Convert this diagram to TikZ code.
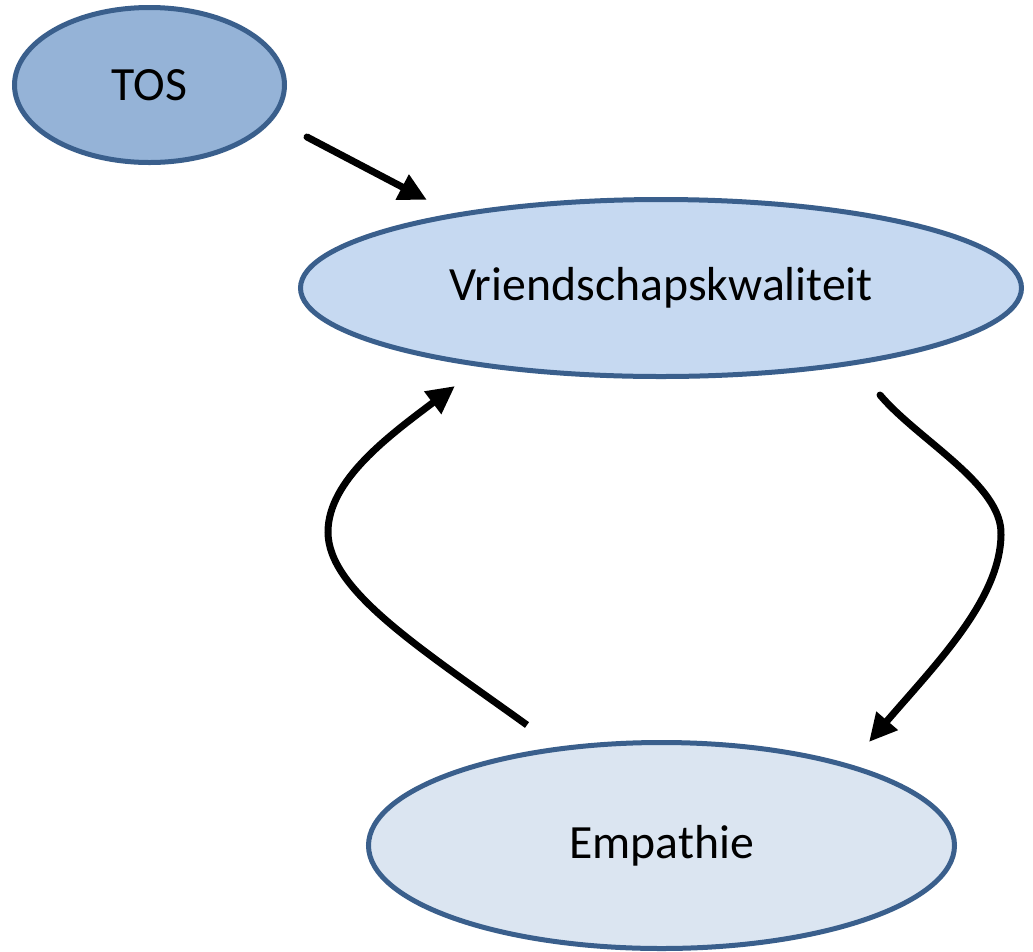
\documentclass[tikz,border=0pt]{standalone}
\usepackage{fontspec}
\setmainfont{Carlito}
\usetikzlibrary{shapes.geometric,arrows.meta}
\newdimen\pxu \pxu=0.75pt
\definecolor{bordc}{HTML}{3A5F8C}
\definecolor{tosfill}{HTML}{95B3D7}
\definecolor{vfill}{HTML}{C6D9F1}
\definecolor{efill}{HTML}{DBE5F1}
\tikzset{
  oval/.style={ellipse, draw=bordc, line width=5\pxu, inner sep=0pt, font=\fontsize{35.8}{43}\selectfont},
  conn/.style={line width=5.25pt, black, line cap=round, -{Triangle[length=21pt,width=20pt]}}
}
\begin{document}
\begin{tikzpicture}[x=\pxu,y=-\pxu]
\useasboundingbox (0,0) rectangle (1033,951);
\node[oval, fill=tosfill, minimum width=270\pxu, minimum height=155\pxu] (tos) at (149.5,85) {TOS};
\node[oval, fill=vfill, minimum width=721\pxu, minimum height=177\pxu] (vk) at (661,288) {Vriendschapskwaliteit};
\node[oval, fill=efill, minimum width=586\pxu, minimum height=206\pxu] (emp) at (661.5,845.5) {Empathie};
\coordinate (a1) at (307,137);
\coordinate (a2) at (427,200);
\coordinate (b1) at (880,395);
\coordinate (b2) at (1001,535);
\coordinate (b3) at (869,742);
\coordinate (c1) at (527,725);
\coordinate (c2) at (328,532);
\coordinate (c3) at (455,386);
\draw[conn] (a1) -- (a2);
\draw[conn] (b1) .. controls (918,440) and (1003,485) .. (b2) .. controls (1000,600) and (935,665) .. (b3);
\draw[conn, line cap=butt] (c1) .. controls (420,648) and (328,590) .. (c2) .. controls (328,480) and (390,435) .. (c3);
\end{tikzpicture}
\end{document}
